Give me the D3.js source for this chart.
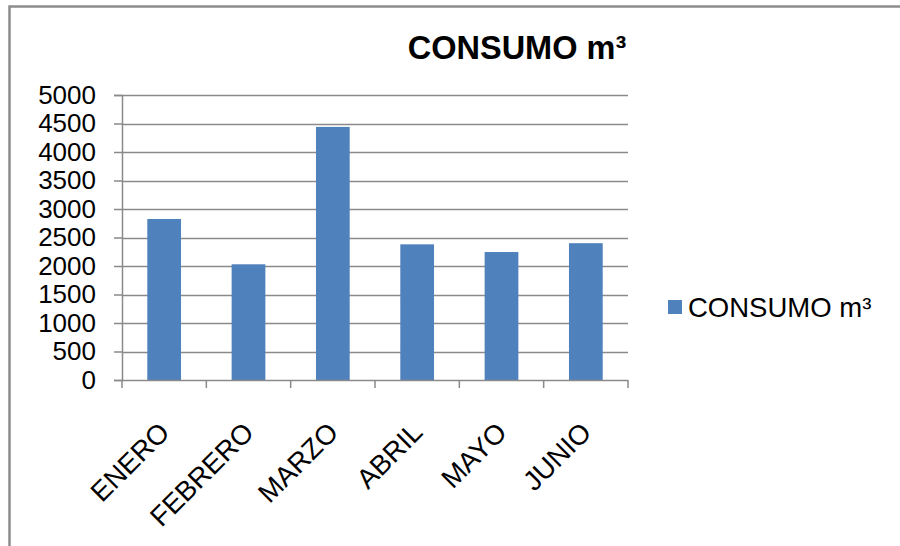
<!DOCTYPE html>
<html>
<head>
<meta charset="utf-8">
<script src="https://cdn.jsdelivr.net/npm/d3@7"></script>
<style>
  body { margin: 0; background: #fff; }
  svg { display: block; font-family: Arial, "Liberation Sans", sans-serif; }
</style>
</head>
<body>
<div id="chart"></div>
<script>
var months = ["ENERO", "FEBRERO", "MARZO", "ABRIL", "MAYO", "JUNIO"];
var consumo = [2825, 2030, 4440, 2380, 2245, 2400];
var yTicks = [0, 500, 1000, 1500, 2000, 2500, 3000, 3500, 4000, 4500, 5000];
var seriesName = "CONSUMO m³";

var width = 900, height = 546;
var plot = {left: 122, right: 628, top: 95, bottom: 380};

var svg = d3.select("#chart").append("svg")
    .attr("width", width)
    .attr("height", height);

// frame of the chart area (only left and top edges show)
svg.append("path")
    .attr("d", "M9.5,546V6.5H900")
    .attr("fill", "none")
    .attr("stroke", "#8c8c8c")
    .attr("stroke-width", 2.5);

var x = d3.scaleBand()
    .domain(months)
    .range([plot.left, plot.right])
    .paddingInner(0.6)
    .paddingOuter(0.3);

var y = d3.scaleLinear()
    .domain([0, 5000])
    .range([plot.bottom, plot.top]);

// gridlines
svg.append("g")
    .selectAll("line")
    .data(yTicks.slice(1))
    .enter()
    .append("line")
    .attr("x1", plot.left)
    .attr("x2", plot.right)
    .attr("y1", function(d) { return Math.round(y(d)) + 0.5; })
    .attr("y2", function(d) { return Math.round(y(d)) + 0.5; })
    .attr("stroke", "#8a8a8a")
    .attr("stroke-width", 1.5);

// y axis
var yAxis = svg.append("g")
    .attr("transform", "translate(" + plot.left + ",0)")
    .call(d3.axisLeft(y).tickValues(yTicks).tickSize(8).tickPadding(18).tickFormat(d3.format("d")));
yAxis.select(".domain").attr("stroke", "#8a8a8a").attr("stroke-width", 1.5);
yAxis.selectAll(".tick line").attr("stroke", "#8a8a8a").attr("stroke-width", 1.5);
yAxis.selectAll("text")
    .attr("font-size", 26)
    .attr("font-family", "Arial, 'Liberation Sans', sans-serif")
    .attr("fill", "#000");

// bars
svg.append("g")
    .selectAll("rect")
    .data(consumo)
    .enter()
    .append("rect")
    .attr("x", function(d, i) { return x(months[i]); })
    .attr("y", function(d) { return y(d); })
    .attr("width", x.bandwidth())
    .attr("height", function(d) { return y(0) - y(d); })
    .attr("fill", "#4f81bd");

// x axis: ticks at band boundaries
var step = x.step();
var edges = d3.range(months.length + 1).map(function(i) { return plot.left + i * step; });
var xAxis = svg.append("g");
xAxis.append("line")
    .attr("x1", plot.left).attr("x2", plot.right)
    .attr("y1", plot.bottom + 0.5).attr("y2", plot.bottom + 0.5)
    .attr("stroke", "#8a8a8a").attr("stroke-width", 1.5);
xAxis.selectAll("line.tk")
    .data(edges)
    .enter()
    .append("line")
    .attr("class", "tk")
    .attr("x1", function(d) { return d; })
    .attr("x2", function(d) { return d; })
    .attr("y1", plot.bottom)
    .attr("y2", plot.bottom + 8)
    .attr("stroke", "#8a8a8a").attr("stroke-width", 1.5);

xAxis.selectAll("text")
    .data(months)
    .enter()
    .append("text")
    .attr("transform", function(d) {
        return "translate(" + (x(d) + x.bandwidth() / 2 + 7) + "," + (plot.bottom + 54) + ") rotate(-45)";
    })
    .attr("text-anchor", "end")
    .attr("font-size", 27.5)
    .attr("fill", "#000")
    .text(function(d) { return d; });

// title
svg.append("text")
    .attr("x", 517)
    .attr("y", 59)
    .attr("text-anchor", "middle")
    .attr("font-size", 32.5)
    .attr("font-weight", "bold")
    .attr("fill", "#000")
    .text(seriesName);

// legend
var legend = svg.append("g").attr("transform", "translate(668,300)");
legend.append("rect")
    .attr("width", 14).attr("height", 14)
    .attr("fill", "#4f81bd");
legend.append("text")
    .attr("x", 20)
    .attr("y", 17)
    .attr("font-size", 27.5)
    .attr("fill", "#000")
    .text(seriesName);
</script>
</body>
</html>
